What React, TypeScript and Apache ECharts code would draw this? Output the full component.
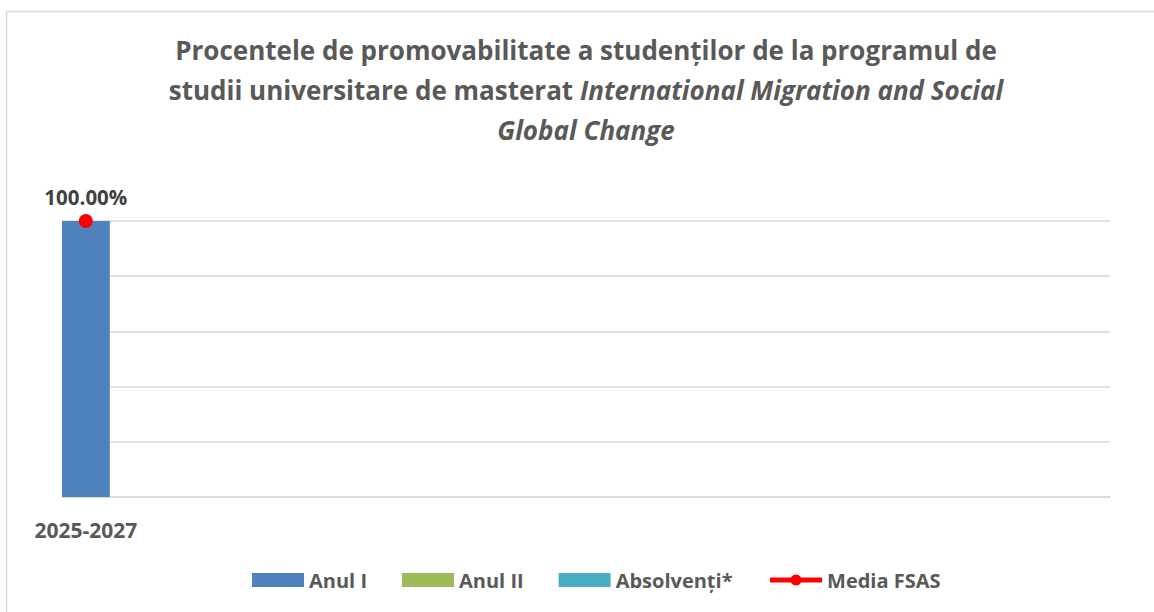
import React, { useEffect, useRef } from "react";
import * as echarts from "echarts";

const categories = ["2025-2027"];
const anulI = [100];
const anulII: (number | null)[] = [null];
const absolventi: (number | null)[] = [null];
const mediaFSAS = [100];
const seriesNames = ["Anul I", "Anul II", "Absolvenți*", "Media FSAS"];

const FONT = "'Open Sans', 'Noto Sans', sans-serif";

export default function App() {
  const ref = useRef<HTMLDivElement>(null);
  useEffect(() => {
    if (!ref.current) return;
    const chart = echarts.init(ref.current, null, { renderer: "svg" });
    chart.setOption({
      animation: false,
      backgroundColor: "#ffffff",
      graphic: [
        {
          type: "rect",
          shape: { x: 6.5, y: 11.5, width: 1200, height: 700 },
          style: { fill: "none", stroke: "#d9d9d9", lineWidth: 1.5 },
          silent: true,
        },
        {
          type: "text",
          x: 586,
          y: 30,
          style: {
            text:
              "{b|Procentele de promovabilitate a studenților de la programul de}\n{b|studii universitare de masterat }{i|International Migration and Social}\n{i|Global Change}",
            align: "center",
            verticalAlign: "top",
            rich: {
              b: { fontFamily: FONT, fontWeight: "bold", fontSize: 26, fill: "#595959", lineHeight: 40 },
              i: { fontFamily: FONT, fontWeight: "bold", fontStyle: "italic", fontSize: 26, fill: "#595959", lineHeight: 40 },
            },
          },
        },
      ],
      legend: {
        bottom: 17,
        left: 247,
        itemWidth: 52,
        itemHeight: 14,
        itemGap: 35,
        textStyle: { fontFamily: FONT, fontWeight: "bold", fontSize: 20, color: "#595959" },
        data: [
          { name: seriesNames[0], icon: "rect" },
          { name: seriesNames[1], icon: "rect" },
          { name: seriesNames[2], icon: "rect" },
          { name: seriesNames[3], lineStyle: { width: 5 } },
        ],
      },
      grid: { left: 62, right: 44, top: 221, bottom: 115, containLabel: false },
      xAxis: {
        type: "category",
        data: categories,
        max: 21,
        boundaryGap: true,
        axisLine: { lineStyle: { color: "#d9d9d9", width: 1.5 } },
        axisTick: { show: false },
        axisLabel: {
          interval: 0,
          margin: 22,
          fontFamily: FONT,
          fontWeight: "bold",
          fontSize: 21,
          color: "#595959",
          formatter: (v: string) => (v == null ? "" : v),
        },
      },
      yAxis: {
        type: "value",
        min: 0,
        max: 100,
        interval: 20,
        axisLabel: { show: false },
        axisLine: { show: false },
        axisTick: { show: false },
        splitLine: { lineStyle: { color: "#d9d9d9", width: 1.5 } },
      },
      series: [
        {
          name: seriesNames[0],
          type: "bar",
          data: anulI,
          barWidth: 48,
          barGap: "-100%",
          itemStyle: { color: "#4f81bd" },
        },
        {
          name: seriesNames[1],
          type: "bar",
          data: anulII,
          barWidth: 48,
          barGap: "-100%",
          itemStyle: { color: "#9bbb59" },
        },
        {
          name: seriesNames[2],
          type: "bar",
          data: absolventi,
          barWidth: 48,
          barGap: "-100%",
          itemStyle: { color: "#4bacc6" },
        },
        {
          name: seriesNames[3],
          type: "line",
          data: mediaFSAS,
          symbol: "circle",
          symbolSize: 14,
          itemStyle: { color: "#ff0000" },
          lineStyle: { color: "#ff0000", width: 5 },
          label: {
            show: true,
            position: "top",
            distance: 7,
            fontFamily: FONT,
            fontWeight: "bold",
            fontSize: 20.5,
            color: "#404040",
            formatter: (p: any) => p.value.toFixed(2) + "%",
          },
          z: 5,
        },
      ],
    });
    return () => chart.dispose();
  }, []);
  return (
    <div
      ref={ref}
      style={{ position: "fixed", left: 0, top: 0, width: 1154, height: 612 }}
    />
  );
}
